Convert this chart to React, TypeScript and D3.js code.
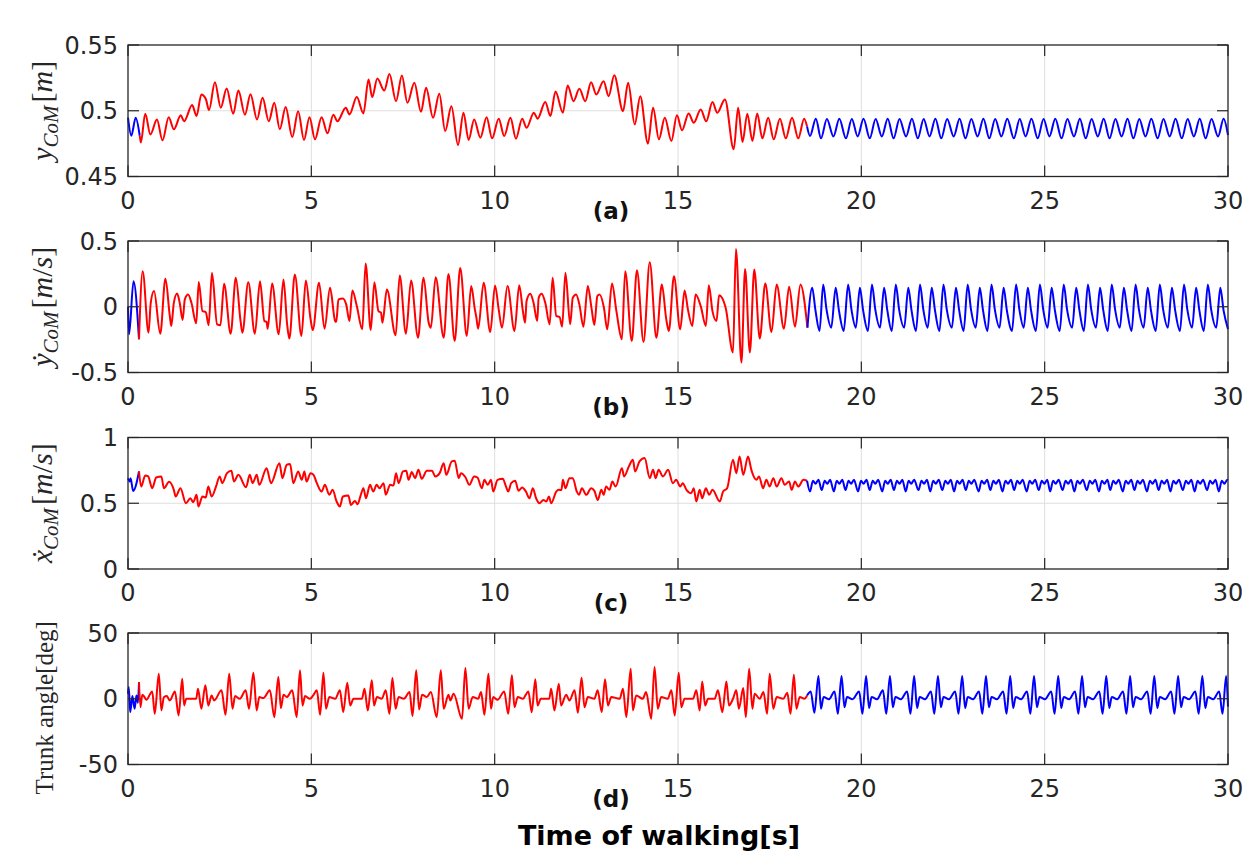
import * as d3 from 'd3';
import React from 'react';

type Pt = [number, number];

const xTicks = [0, 5, 10, 15, 20, 25, 30];

// (a) vertical CoM position [m]
const yComStart: Pt[] = [[0, 0.4947], [0.09, 0.481], [0.21, 0.4947], [0.32, 0.481]];
const yComRed: Pt[] = [
  [0.32, 0.481], [0.35, 0.4758], [0.47, 0.4977], [0.61, 0.482], [0.79, 0.4934], [0.94, 0.4775], [1.11, 0.495], [1.25, 0.4859],
  [1.44, 0.4965], [1.53, 0.492], [1.75, 0.5043], [1.87, 0.496], [2.0, 0.5124], [2.12, 0.5091], [2.21, 0.5005], [2.37, 0.5217],
  [2.53, 0.5023], [2.69, 0.517], [2.87, 0.4977], [3.01, 0.5154], [3.19, 0.497], [3.34, 0.5126], [3.52, 0.4934], [3.67, 0.5098],
  [3.84, 0.492], [3.99, 0.506], [4.14, 0.4859], [4.3, 0.5028], [4.48, 0.48], [4.64, 0.4997], [4.8, 0.4778], [4.95, 0.495],
  [5.1, 0.4783], [5.28, 0.495], [5.44, 0.4828], [5.6, 0.497], [5.71, 0.492], [5.94, 0.5023], [6.04, 0.4972], [6.24, 0.5104],
  [6.42, 0.498], [6.56, 0.5237], [6.66, 0.5104], [6.8, 0.5245], [6.99, 0.5154], [7.13, 0.528], [7.31, 0.5073], [7.47, 0.5268],
  [7.62, 0.506], [7.81, 0.5212], [7.99, 0.4992], [8.13, 0.5174], [8.32, 0.4947], [8.49, 0.5129], [8.65, 0.4846], [8.82, 0.5035],
  [9.0, 0.474], [9.15, 0.4985], [9.29, 0.4778], [9.44, 0.4934], [9.61, 0.4795], [9.78, 0.495], [9.93, 0.479], [10.11, 0.494],
  [10.26, 0.4808], [10.43, 0.4947], [10.58, 0.4788], [10.75, 0.494], [10.87, 0.4871], [11.07, 0.4985], [11.17, 0.494], [11.38, 0.5066],
  [11.52, 0.496], [11.66, 0.5146], [11.86, 0.4985], [11.99, 0.5192], [12.15, 0.5073], [12.31, 0.5167], [12.47, 0.5073], [12.63, 0.5217],
  [12.77, 0.5124], [12.97, 0.5225], [13.11, 0.5111], [13.26, 0.527], [13.5, 0.4997], [13.64, 0.5212], [13.82, 0.4896], [13.97, 0.5111],
  [14.18, 0.475], [14.32, 0.5023], [14.48, 0.4783], [14.64, 0.4947], [14.82, 0.477], [14.97, 0.4965], [15.11, 0.4851], [15.29, 0.498],
  [15.43, 0.4909], [15.62, 0.501], [15.77, 0.492], [15.94, 0.5066], [16.07, 0.4985], [16.28, 0.5086], [16.52, 0.4707], [16.64, 0.5023],
  [16.76, 0.4763], [16.89, 0.4977], [17.03, 0.477], [17.16, 0.498], [17.3, 0.479], [17.46, 0.4947], [17.61, 0.4783], [17.78, 0.494],
  [17.94, 0.479], [18.11, 0.4947], [18.28, 0.479], [18.44, 0.494], [18.52, 0.488],
];
const yComBlue: Pt[] = [
  [18.52, 0.488], [18.6, 0.4808], [18.76, 0.494], [18.9, 0.479], [19.06, 0.4938], [19.24, 0.4805], [19.4, 0.494], [19.58, 0.479],
  [19.74, 0.4938], [19.9, 0.4805], [20.06, 0.494], [20.23, 0.479], [20.39, 0.4938], [20.56, 0.4805], [20.72, 0.494], [20.88, 0.479],
  [21.04, 0.4938], [21.22, 0.4805], [21.38, 0.494], [21.54, 0.479], [21.7, 0.4938], [21.86, 0.4805], [22.02, 0.494], [22.18, 0.479],
  [22.34, 0.4938], [22.52, 0.4805], [22.68, 0.494], [22.84, 0.479], [23.0, 0.4938], [23.17, 0.4805], [23.33, 0.494], [23.49, 0.479],
  [23.65, 0.4938], [23.82, 0.4805], [23.98, 0.494], [24.16, 0.479], [24.32, 0.4938], [24.48, 0.4805], [24.64, 0.494], [24.81, 0.479],
  [24.97, 0.4938], [25.13, 0.4805], [25.29, 0.494], [25.46, 0.479], [25.62, 0.4938], [25.8, 0.4805], [25.96, 0.494], [26.12, 0.479],
  [26.28, 0.4938], [26.45, 0.4805], [26.61, 0.494], [26.77, 0.479], [26.93, 0.4938], [27.1, 0.4805], [27.26, 0.494], [27.42, 0.479],
  [27.58, 0.4938], [27.75, 0.4805], [27.91, 0.494], [28.08, 0.479], [28.24, 0.4938], [28.41, 0.4805], [28.57, 0.494], [28.74, 0.479],
  [28.9, 0.4938], [29.07, 0.4805], [29.23, 0.494], [29.39, 0.479], [29.55, 0.4938], [29.73, 0.4805], [29.88, 0.494], [30.0, 0.4815],
];

// (b) vertical CoM velocity [m/s]
const yVelStart: Pt[] = [[0, 0], [0.03, -0.21], [0.15, 0.194], [0.3, -0.247]];
const yVelRed: Pt[] = [
  [0.3, -0.247], [0.4, 0.27], [0.56, -0.197], [0.62, 0.03], [0.71, 0.119], [0.88, -0.205], [1.02, 0.212], [1.14, -0.07],
  [1.18, -0.146], [1.25, 0.03], [1.34, 0.1], [1.41, 0.03], [1.49, -0.1], [1.55, 0.056], [1.64, 0.093], [1.73, 0.03],
  [1.86, -0.126], [1.93, 0.189], [2.03, -0.033], [2.12, -0.04], [2.2, -0.141], [2.29, 0.258], [2.43, -0.134], [2.52, -0.141],
  [2.62, 0.174], [2.8, -0.205], [2.94, 0.22], [3.07, -0.109], [3.12, -0.197], [3.28, 0.187], [3.46, -0.205], [3.6, 0.194],
  [3.72, -0.109], [3.78, -0.115], [3.81, -0.167], [3.93, 0.177], [4.11, -0.21], [4.24, 0.207], [4.34, -0.134], [4.4, -0.242],
  [4.55, 0.245], [4.73, -0.222], [4.85, 0.2], [4.98, -0.096], [5.04, -0.177], [5.21, 0.182], [5.36, -0.167], [5.51, 0.144],
  [5.65, -0.109], [5.68, -0.115], [5.74, 0.056], [5.86, 0.063], [5.95, 0.018], [6.04, -0.109], [6.12, 0.124], [6.24, 0.005],
  [6.39, -0.172], [6.48, 0.328], [6.62, -0.177], [6.72, 0.187], [6.83, -0.033], [6.9, -0.045], [6.94, -0.121], [7.06, 0.131],
  [7.3, -0.217], [7.41, 0.237], [7.58, -0.205], [7.72, 0.2], [7.91, -0.235], [8.06, 0.22], [8.2, -0.121], [8.26, -0.159],
  [8.39, 0.225], [8.61, -0.235], [8.74, 0.25], [8.91, -0.26], [9.06, 0.295], [9.24, -0.222], [9.36, 0.157], [9.46, -0.02],
  [9.5, -0.08], [9.55, -0.167], [9.7, 0.182], [9.88, -0.192], [10.01, 0.162], [10.11, -0.02], [10.2, -0.159], [10.35, 0.157],
  [10.54, -0.184], [10.67, 0.164], [10.77, -0.033], [10.83, -0.121], [10.87, 0.043], [10.97, 0.098], [11.06, 0.03], [11.16, -0.109],
  [11.2, 0.068], [11.28, 0.098], [11.38, 0.03], [11.5, -0.134], [11.58, 0.22], [11.68, -0.07], [11.77, -0.078], [11.84, -0.152],
  [11.93, 0.258], [12.06, -0.134], [12.13, 0.068], [12.22, 0.093], [12.31, 0.018], [12.42, -0.152], [12.54, 0.157], [12.64, -0.008],
  [12.72, -0.139], [12.8, 0.081], [12.86, 0.093], [12.98, -0.008], [13.07, -0.172], [13.2, 0.177], [13.32, -0.033], [13.47, -0.247],
  [13.56, 0.27], [13.74, -0.26], [13.88, 0.278], [14.06, -0.268], [14.23, 0.338], [14.41, -0.235], [14.56, 0.169], [14.68, -0.096],
  [14.75, -0.184], [14.89, 0.232], [15.06, -0.172], [15.18, 0.124], [15.27, -0.02], [15.39, -0.146], [15.48, 0.093], [15.62, 0.005],
  [15.76, -0.146], [15.84, 0.164], [15.94, -0.033], [16.05, -0.109], [16.12, 0.088], [16.3, -0.008], [16.5, -0.348], [16.58, 0.439],
  [16.73, -0.424], [16.83, 0.288], [16.96, -0.348], [17.08, 0.283], [17.23, -0.242], [17.38, 0.177], [17.55, -0.192], [17.69, 0.169],
  [17.89, -0.167], [18.03, 0.152], [18.19, -0.152], [18.34, 0.169], [18.53, -0.159],
];
const yVelBlue: Pt[] = [
  [18.53, -0.159], [18.66, 0.144], [18.75, -0.03], [18.86, -0.184], [18.96, 0.169], [19.05, -0.02], [19.18, -0.159],
  [19.3, 0.144], [19.39, -0.03], [19.52, -0.184], [19.64, 0.169], [19.73, -0.02], [19.85, -0.159],
  [19.96, 0.144], [20.05, -0.03], [20.18, -0.184], [20.29, 0.169], [20.38, -0.02], [20.51, -0.159],
  [20.62, 0.144], [20.71, -0.03], [20.83, -0.184], [20.94, 0.169], [21.03, -0.02], [21.17, -0.159],
  [21.28, 0.144], [21.37, -0.03], [21.49, -0.184], [21.6, 0.169], [21.69, -0.02], [21.81, -0.159],
  [21.92, 0.144], [22.01, -0.03], [22.13, -0.184], [22.24, 0.169], [22.33, -0.02], [22.47, -0.159],
  [22.58, 0.144], [22.67, -0.03], [22.79, -0.184], [22.9, 0.169], [22.99, -0.02], [23.12, -0.159],
  [23.23, 0.144], [23.32, -0.03], [23.44, -0.184], [23.55, 0.169], [23.64, -0.02], [23.77, -0.159],
  [23.88, 0.144], [23.97, -0.03], [24.11, -0.184], [24.22, 0.169], [24.31, -0.02], [24.43, -0.159],
  [24.54, 0.144], [24.63, -0.03], [24.76, -0.184], [24.87, 0.169], [24.96, -0.02], [25.08, -0.159],
  [25.19, 0.144], [25.28, -0.03], [25.41, -0.184], [25.52, 0.169], [25.61, -0.02], [25.75, -0.159],
  [25.86, 0.144], [25.95, -0.03], [26.07, -0.184], [26.18, 0.169], [26.27, -0.02], [26.4, -0.159],
  [26.51, 0.144], [26.6, -0.03], [26.72, -0.184], [26.83, 0.169], [26.92, -0.02], [27.05, -0.159],
  [27.16, 0.144], [27.25, -0.03], [27.37, -0.184], [27.48, 0.169], [27.57, -0.02], [27.7, -0.159],
  [27.81, 0.144], [27.9, -0.03], [28.03, -0.184], [28.14, 0.169], [28.23, -0.02], [28.36, -0.159],
  [28.47, 0.144], [28.56, -0.03], [28.69, -0.184], [28.8, 0.169], [28.89, -0.02], [29.02, -0.159],
  [29.13, 0.144], [29.22, -0.03], [29.34, -0.184], [29.45, 0.169], [29.54, -0.02], [29.68, -0.159],
  [29.79, 0.144], [29.88, -0.03], [30.0, -0.17],
];

// (c) forward CoM velocity [m/s]
const xVelStart: Pt[] = [[0, 0.69], [0.05, 0.665], [0.07, 0.69], [0.14, 0.594], [0.3, 0.742]];
const xVelRed: Pt[] = [
  [0.3, 0.742], [0.36, 0.627], [0.47, 0.711], [0.55, 0.704], [0.66, 0.614], [0.77, 0.696], [0.91, 0.704], [0.98, 0.614],
  [1.12, 0.664], [1.25, 0.602], [1.3, 0.551], [1.43, 0.614], [1.58, 0.5], [1.7, 0.538], [1.78, 0.508], [1.87, 0.564],
  [1.92, 0.475], [2.03, 0.551], [2.12, 0.544], [2.19, 0.627], [2.28, 0.551], [2.4, 0.627], [2.5, 0.704], [2.57, 0.653],
  [2.7, 0.729], [2.82, 0.747], [2.89, 0.665], [3.01, 0.716], [3.22, 0.622], [3.32, 0.716], [3.4, 0.653], [3.51, 0.716],
  [3.58, 0.64], [3.78, 0.767], [3.9, 0.653], [4.13, 0.805], [4.21, 0.691], [4.33, 0.793], [4.42, 0.798], [4.51, 0.653],
  [4.64, 0.742], [4.74, 0.678], [4.81, 0.742], [4.87, 0.665], [4.98, 0.729], [5.06, 0.716], [5.15, 0.653], [5.28, 0.589],
  [5.37, 0.64], [5.49, 0.564], [5.58, 0.602], [5.69, 0.513], [5.78, 0.475], [5.86, 0.551], [6.01, 0.559], [6.08, 0.487],
  [6.19, 0.518], [6.26, 0.492], [6.35, 0.564], [6.42, 0.614], [6.49, 0.538], [6.6, 0.64], [6.69, 0.589], [6.78, 0.64],
  [6.86, 0.614], [6.97, 0.653], [7.03, 0.564], [7.15, 0.64], [7.24, 0.635], [7.31, 0.729], [7.38, 0.653], [7.5, 0.742],
  [7.59, 0.747], [7.65, 0.678], [7.74, 0.737], [7.83, 0.691], [7.92, 0.754], [8.01, 0.686], [8.15, 0.747], [8.29, 0.747],
  [8.38, 0.704], [8.5, 0.729], [8.61, 0.805], [8.68, 0.716], [8.83, 0.818], [8.91, 0.823], [9.02, 0.691], [9.08, 0.729],
  [9.2, 0.7], [9.31, 0.64], [9.44, 0.704], [9.53, 0.696], [9.65, 0.614], [9.72, 0.678], [9.81, 0.64], [9.9, 0.678],
  [9.96, 0.589], [10.08, 0.678], [10.22, 0.686], [10.31, 0.627], [10.37, 0.589], [10.45, 0.653], [10.56, 0.671], [10.65, 0.596],
  [10.75, 0.62], [10.85, 0.59], [10.95, 0.538], [11.04, 0.614], [11.13, 0.538], [11.22, 0.5], [11.33, 0.525], [11.41, 0.513],
  [11.48, 0.551], [11.54, 0.5], [11.68, 0.589], [11.75, 0.602], [11.82, 0.6], [11.86, 0.678], [11.93, 0.614], [12.04, 0.691],
  [12.13, 0.691], [12.24, 0.589], [12.3, 0.564], [12.38, 0.614], [12.5, 0.564], [12.63, 0.614], [12.72, 0.594], [12.81, 0.525],
  [12.91, 0.602], [12.97, 0.564], [13.04, 0.627], [13.13, 0.602], [13.21, 0.665], [13.3, 0.627], [13.47, 0.767], [13.53, 0.704],
  [13.66, 0.78], [13.77, 0.831], [13.83, 0.742], [13.95, 0.818], [14.09, 0.844], [14.23, 0.691], [14.32, 0.754], [14.39, 0.691],
  [14.47, 0.754], [14.59, 0.704], [14.73, 0.754], [14.86, 0.653], [14.95, 0.678], [15.06, 0.627], [15.13, 0.653], [15.23, 0.602],
  [15.36, 0.576], [15.43, 0.614], [15.5, 0.513], [15.59, 0.602], [15.66, 0.538], [15.76, 0.614], [15.85, 0.564], [15.94, 0.602],
  [16.14, 0.513], [16.23, 0.589], [16.34, 0.614], [16.5, 0.831], [16.59, 0.729], [16.68, 0.856], [16.78, 0.716], [16.91, 0.856],
  [17.0, 0.754], [17.14, 0.678], [17.21, 0.704], [17.32, 0.614], [17.41, 0.678], [17.5, 0.627], [17.6, 0.691], [17.69, 0.627],
  [17.82, 0.691], [17.91, 0.64], [18.03, 0.665], [18.1, 0.602], [18.19, 0.665], [18.28, 0.627], [18.42, 0.678], [18.52, 0.671],
];
const xVelBlue: Pt[] = [
  [18.52, 0.671], [18.6, 0.59], [18.68, 0.672], [18.75, 0.648], [18.83, 0.678], [18.92, 0.6], [19.0, 0.672], [19.07, 0.648], [19.15, 0.678],
  [19.25, 0.59], [19.33, 0.672], [19.4, 0.648], [19.48, 0.678], [19.57, 0.6], [19.65, 0.672], [19.72, 0.648], [19.8, 0.678],
  [19.91, 0.59], [19.99, 0.672], [20.06, 0.648], [20.14, 0.678], [20.23, 0.6], [20.31, 0.672], [20.38, 0.648], [20.46, 0.678],
  [20.57, 0.59], [20.65, 0.672], [20.72, 0.648], [20.8, 0.678], [20.89, 0.6], [20.97, 0.672], [21.04, 0.648], [21.12, 0.678],
  [21.21, 0.59], [21.29, 0.672], [21.36, 0.648], [21.44, 0.678], [21.56, 0.6], [21.64, 0.672], [21.71, 0.648], [21.79, 0.678],
  [21.88, 0.59], [21.96, 0.672], [22.03, 0.648], [22.11, 0.678], [22.21, 0.6], [22.29, 0.672], [22.36, 0.648], [22.44, 0.678],
  [22.53, 0.59], [22.61, 0.672], [22.68, 0.648], [22.76, 0.678], [22.85, 0.6], [22.93, 0.672], [23.0, 0.648], [23.08, 0.678],
  [23.2, 0.59], [23.28, 0.672], [23.35, 0.648], [23.43, 0.678], [23.52, 0.6], [23.6, 0.672], [23.67, 0.648], [23.75, 0.678],
  [23.85, 0.59], [23.93, 0.672], [24.0, 0.648], [24.08, 0.678], [24.17, 0.6], [24.25, 0.672], [24.32, 0.648], [24.4, 0.678],
  [24.51, 0.59], [24.59, 0.672], [24.66, 0.648], [24.74, 0.678], [24.84, 0.6], [24.92, 0.672], [24.99, 0.648], [25.07, 0.678],
  [25.15, 0.59], [25.23, 0.672], [25.3, 0.648], [25.38, 0.678], [25.49, 0.6], [25.57, 0.672], [25.64, 0.648], [25.72, 0.678],
  [25.81, 0.59], [25.89, 0.672], [25.96, 0.648], [26.04, 0.678], [26.15, 0.6], [26.23, 0.672], [26.3, 0.648], [26.38, 0.678],
  [26.48, 0.59], [26.56, 0.672], [26.63, 0.648], [26.71, 0.678], [26.79, 0.6], [26.87, 0.672], [26.94, 0.648], [27.02, 0.678],
  [27.13, 0.59], [27.21, 0.672], [27.28, 0.648], [27.36, 0.678], [27.45, 0.6], [27.53, 0.672], [27.6, 0.648], [27.68, 0.678],
  [27.79, 0.59], [27.87, 0.672], [27.94, 0.648], [28.02, 0.678], [28.11, 0.6], [28.19, 0.672], [28.26, 0.648], [28.34, 0.678],
  [28.43, 0.59], [28.51, 0.672], [28.58, 0.648], [28.66, 0.678], [28.77, 0.6], [28.85, 0.672], [28.92, 0.648], [29.0, 0.678],
  [29.09, 0.59], [29.17, 0.672], [29.24, 0.648], [29.32, 0.678], [29.43, 0.6], [29.51, 0.672], [29.58, 0.648], [29.66, 0.678],
  [29.75, 0.59], [29.83, 0.672], [29.9, 0.648], [29.98, 0.678], [30.0, 0.676],
];

// (d) trunk angle [deg]
const trunkStart: Pt[] = [[0, 3.8], [0.02, 8.9], [0.06, -10.2], [0.12, 2], [0.18, -7.6], [0.23, 2.5], [0.27, -3], [0.3, 12.7]];
const trunkRed: Pt[] = [
  [0.3, 12.7], [0.34, -6.4], [0.39, 3], [0.45, 1.3], [0.5, -0.8], [0.66, 5.6], [0.73, -11.5], [0.84, 19.1],
  [0.91, -8.9], [0.98, 1.3], [1.06, 2], [1.14, -1.3], [1.28, 5.6], [1.38, -12.7], [1.48, 15.3], [1.53, -5.1],
  [1.59, 0], [1.86, 0], [1.91, 7.6], [2.0, -7.6], [2.11, 10.2], [2.19, -5.1], [2.28, 2.5], [2.35, -1.3],
  [2.55, 6.4], [2.66, -12.2], [2.76, 19.1], [2.85, -7.6], [2.92, 2], [3.05, 0], [3.21, 6.4], [3.3, -7.6],
  [3.42, 19.8], [3.51, -8.9], [3.58, 1.3], [3.69, 0.5], [3.87, 6.4], [3.99, -14], [4.1, 16.5], [4.17, -7.1],
  [4.24, 3], [4.33, 1.3], [4.48, 6.4], [4.6, -14], [4.69, 21.6], [4.76, -5.1], [4.83, 2], [4.96, 0],
  [5.05, 2.5], [5.15, 6.4], [5.24, -12.2], [5.33, 19.8], [5.4, -7.6], [5.49, 1.3], [5.65, 0], [5.78, 6.4],
  [5.87, -10.2], [5.98, 12.2], [6.06, -5.1], [6.15, 0], [6.38, 0], [6.45, 7.6], [6.54, -8.9], [6.65, 14],
  [6.71, -5.1], [6.79, 1.3], [6.92, 0], [7.03, 6.4], [7.13, -11.5], [7.21, 15.8], [7.3, -7.6], [7.38, 1.3],
  [7.52, 0], [7.68, 5.1], [7.76, -13.2], [7.86, 21.6], [7.94, -8.1], [8.02, 3], [8.15, 1.3], [8.26, 5.1],
  [8.42, -14], [8.53, 21.6], [8.61, -7.6], [8.74, 3], [8.79, -1.3], [8.88, 3.8], [9.11, -15.3], [9.2, 23.4],
  [9.29, -7.6], [9.4, 1.3], [9.55, 0], [9.63, 5.1], [9.72, -12.2], [9.83, 19.1], [9.9, -7.6], [9.96, 1.3],
  [10.08, -0.8], [10.26, 5.6], [10.37, -11.5], [10.47, 17.8], [10.54, -6.4], [10.63, 1.3], [10.77, 0], [10.92, 5.6],
  [11.01, -10.2], [11.11, 14.8], [11.17, -5.1], [11.26, 0], [11.49, 0], [11.54, 7.6], [11.63, -8.9], [11.75, 11.5],
  [11.81, -5.1], [11.95, 3], [12.04, -1.3], [12.18, 6.4], [12.27, -10.7], [12.37, 16], [12.45, -6.4], [12.54, 1.3],
  [12.72, 0], [12.81, 6.4], [12.92, -10.2], [13.01, 14.8], [13.09, -5.1], [13.18, 1.3], [13.41, 0], [13.5, 7.6],
  [13.59, -14], [13.71, 22.9], [13.77, -8.9], [13.86, 2.5], [14.04, 0], [14.13, 5.1], [14.27, -15.3], [14.36, 24.2],
  [14.45, -7.6], [14.54, 1.3], [14.72, 0], [14.82, 6.4], [14.91, -12.7], [15.02, 19.8], [15.09, -6.4], [15.18, 0],
  [15.41, 0], [15.5, 6.4], [15.59, -8.9], [15.66, 13.2], [15.74, -5.1], [15.82, 0], [16.0, 0], [16.09, 6.4],
  [16.21, -10.2], [16.32, 13.2], [16.39, -5.1], [16.5, 0], [16.59, 6.4], [16.66, -7.6], [16.78, 8.1], [16.85, -14],
  [16.94, 22.9], [17.03, -7.6], [17.09, 3.8], [17.23, 0], [17.33, 5.1], [17.43, -11.5], [17.5, 19.1], [17.6, -7.6],
  [17.69, 1.3], [17.87, 0], [17.98, 4.5], [18.07, -11.5], [18.16, 18.3], [18.23, -7.6], [18.32, 1.3], [18.45, 0], [18.52, 2.5],
];
const trunkBlue: Pt[] = [
  [18.52, 2.5], [18.62, 5.6], [18.72, -10.7], [18.83, 17.3], [18.9, -7.6], [18.97, 1.3], [19.12, -0.3],
  [19.27, 5.6], [19.36, -11.5], [19.46, 17.3], [19.54, -6.4], [19.61, 1.3], [19.76, -0.3],
  [19.94, 5.6], [20.03, -11.5], [20.13, 17.3], [20.21, -7], [20.28, 1.3], [20.43, -0.3],
  [20.59, 6.4], [20.68, -11.5], [20.78, 17.3], [20.86, -6.4], [20.93, 1.3], [21.08, -0.3],
  [21.25, 5.6], [21.34, -11.5], [21.44, 17.3], [21.52, -7], [21.59, 1.3], [21.74, -0.3],
  [21.9, 5.6], [21.99, -11.5], [22.09, 17.3], [22.17, -6.4], [22.24, 1.3], [22.39, -0.3],
  [22.56, 5.6], [22.65, -11.5], [22.75, 17.3], [22.83, -7], [22.9, 1.3], [23.05, -0.3],
  [23.21, 5.6], [23.3, -11.5], [23.4, 17.3], [23.48, -6.4], [23.55, 1.3], [23.7, -0.3],
  [23.87, 5.6], [23.96, -11.5], [24.06, 17.3], [24.14, -7], [24.21, 1.3], [24.36, -0.3],
  [24.52, 5.6], [24.61, -11.5], [24.71, 17.3], [24.79, -6.4], [24.86, 1.3], [25.01, -0.3],
  [25.18, 5.6], [25.27, -11.5], [25.37, 17.3], [25.45, -7], [25.52, 1.3], [25.67, -0.3],
  [25.83, 5.6], [25.92, -11.5], [26.02, 17.3], [26.1, -6.4], [26.17, 1.3], [26.32, -0.3],
  [26.49, 5.6], [26.58, -11.5], [26.68, 17.3], [26.76, -7], [26.83, 1.3], [26.98, -0.3],
  [27.14, 5.6], [27.23, -11.5], [27.33, 17.3], [27.41, -6.4], [27.48, 1.3], [27.63, -0.3],
  [27.8, 5.6], [27.89, -11.5], [27.99, 17.3], [28.07, -7], [28.14, 1.3], [28.29, -0.3],
  [28.45, 5.6], [28.54, -11.5], [28.64, 17.3], [28.72, -6.4], [28.79, 1.3], [28.94, -0.3],
  [29.11, 5.6], [29.2, -11.5], [29.3, 17.3], [29.38, -7], [29.45, 1.3], [29.6, -0.3],
  [29.76, 5.6], [29.85, -11.5], [29.95, 17.3], [30.0, -6],
];

const yTickSets = [
  [0.45, 0.5, 0.55],
  [-0.5, 0, 0.5],
  [0, 0.5, 1],
  [-50, 0, 50],
];
const yTickLabels = [
  ['0.45', '0.5', '0.55'],
  ['-0.5', '0', '0.5'],
  ['0', '0.5', '1'],
  ['-50', '0', '50'],
];
const panelTags = ['(a)', '(b)', '(c)', '(d)'];

const panels = [
  { start: yComStart, red: yComRed, blue: yComBlue },
  { start: yVelStart, red: yVelRed, blue: yVelBlue },
  { start: xVelStart, red: xVelRed, blue: xVelBlue },
  { start: trunkStart, red: trunkRed, blue: trunkBlue },
];

const LEFT = 128;
const RIGHT = 1228;
const TOPS = [45, 241, 437.5, 633];
const PH = 131.5;
const AX = '#262626';
const TICK = 11;
const SANS = '"DejaVu Sans", Verdana, sans-serif';
const SERIF = '"Liberation Serif", "DejaVu Serif", serif';

function YLabel({ i, cx, cy }: { i: number; cx: number; cy: number }) {
  const t = `translate(${cx},${cy}) rotate(-90)`;
  if (i === 3) {
    return (
      <text transform={t} textAnchor="middle" fontFamily={SERIF} fontSize={25} fill={AX}>
        Trunk angle[deg]
      </text>
    );
  }
  const sym = i === 0 ? 'y' : i === 1 ? '\u1E8F' : '\u1E8B';
  return (
    <text transform={t} textAnchor="middle" fontFamily={SERIF} fontSize={30} fill={AX}>
      <tspan fontStyle="italic">{sym}</tspan>
      <tspan fontStyle="italic" fontSize={21} dy={6}>CoM</tspan>
      <tspan dy={-6} dx={3}>[</tspan>
      <tspan fontStyle="italic">m</tspan>
      {i > 0 && <tspan>/</tspan>}
      {i > 0 && <tspan fontStyle="italic">s</tspan>}
      <tspan>]</tspan>
    </text>
  );
}

export default function App() {
  const x = d3.scaleLinear().domain([0, 30]).range([LEFT, RIGHT]);

  return (
    <div style={{ position: 'absolute', left: 0, top: 0 }}>
      <svg width={1255} height={857} style={{ display: 'block', background: '#fff' }}>
        {panels.map((p, i) => {
          const top = TOPS[i];
          const bottom = top + PH;
          const yt = yTickSets[i];
          const y = d3.scaleLinear().domain([yt[0], yt[2]]).range([bottom, top]);
          const line = d3
            .line<Pt>()
            .x(d => x(d[0]))
            .y(d => y(d[1]))
            .curve(d3.curveMonotoneX);
          return (
            <g key={i}>
              {/* grid */}
              {xTicks.slice(1, -1).map(t => (
                <line key={t} x1={x(t)} x2={x(t)} y1={top} y2={bottom} stroke="#dedede" strokeWidth={1} />
              ))}
              <line x1={LEFT} x2={RIGHT} y1={y(yt[1])} y2={y(yt[1])} stroke="#dedede" strokeWidth={1} />
              {/* data */}
              <path d={line(p.start) ?? ''} fill="none" stroke="#0000ff" strokeWidth={2} strokeLinejoin="round" />
              <path d={line(p.red) ?? ''} fill="none" stroke="#ff0000" strokeWidth={2} strokeLinejoin="round" />
              <path d={line(p.blue) ?? ''} fill="none" stroke="#0000ff" strokeWidth={2} strokeLinejoin="round" />
              {/* ticks */}
              {xTicks.map(t => (
                <g key={t}>
                  <line x1={x(t)} x2={x(t)} y1={bottom} y2={bottom - TICK} stroke={AX} strokeWidth={1.2} />
                  <line x1={x(t)} x2={x(t)} y1={top} y2={top + TICK} stroke={AX} strokeWidth={1.2} />
                  <text x={x(t)} y={bottom + 32} textAnchor="middle" fontFamily={SANS} fontSize={24} fill={AX}>
                    {t}
                  </text>
                </g>
              ))}
              {yt.map((v, k) => (
                <g key={k}>
                  <line x1={LEFT} x2={LEFT + TICK} y1={y(v)} y2={y(v)} stroke={AX} strokeWidth={1.2} />
                  <line x1={RIGHT} x2={RIGHT - TICK} y1={y(v)} y2={y(v)} stroke={AX} strokeWidth={1.2} />
                  <text x={LEFT - 10} y={y(v) + 8.7} textAnchor="end" fontFamily={SANS} fontSize={24} fill={AX}>
                    {yTickLabels[i][k]}
                  </text>
                </g>
              ))}
              <rect x={LEFT} y={top} width={RIGHT - LEFT} height={PH} fill="none" stroke={AX} strokeWidth={1.3} />
              <text x={611} y={bottom + 42} textAnchor="middle" fontFamily={SANS} fontWeight="bold" fontSize={23} fill="#111">
                {panelTags[i]}
              </text>
              <YLabel i={i} cx={i === 3 ? 53 : 52} cy={i === 3 ? top + PH / 2 + 9 : top + PH / 2} />
            </g>
          );
        })}
        <text x={659} y={845} textAnchor="middle" fontFamily={SANS} fontWeight="bold" fontSize={27} fill="#000">
          Time of walking[s]
        </text>
      </svg>
    </div>
  );
}
